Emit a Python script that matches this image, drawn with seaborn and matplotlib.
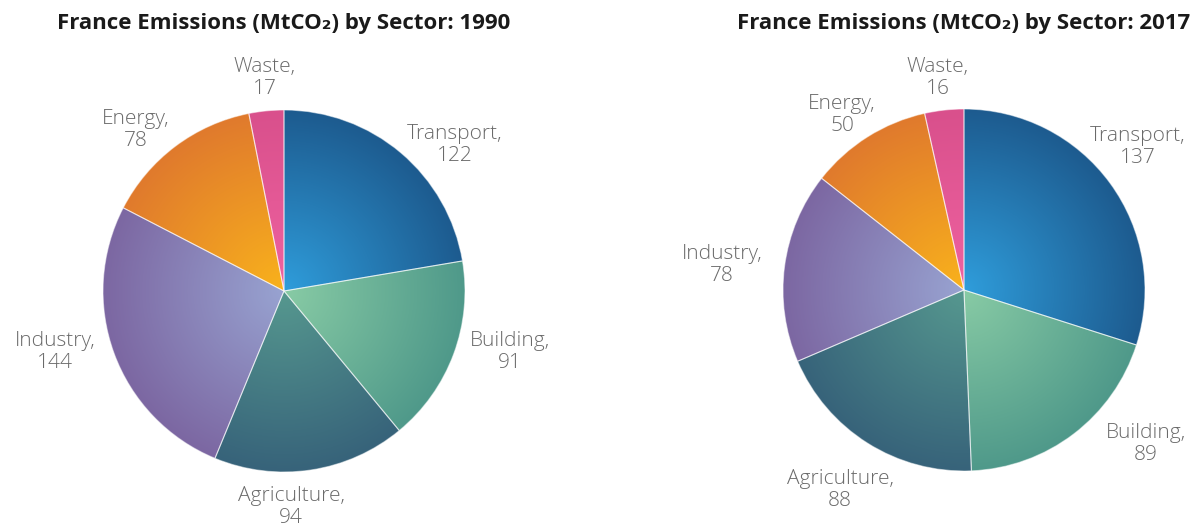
import numpy as np
import matplotlib
matplotlib.use("Agg")
import matplotlib.pyplot as plt
from matplotlib.colors import LinearSegmentedColormap
import seaborn as sns

# data
sectors = ['Transport', 'Building', 'Agriculture', 'Industry', 'Energy', 'Waste']
emissions_1990 = [122, 91, 94, 144, 78, 17]
emissions_2017 = [137, 89, 88, 78, 50, 16]
years = ['1990', '2017']

# light (centre) -> dark (rim) shades per sector
light_colors = ['#2f9ddb', '#88cba5', '#56988f', '#98a3d1', '#f9b21c', '#ef62a0']
dark_colors = ['#1d5b8f', '#4f998a', '#37637a', '#7c67a2', '#e07a2d', '#d9508c']

# label anchor positions (pie radius units), layout only
label_pos = [
    [(0.945, 0.807), (1.249, -0.337), (0.04, -1.193), (-1.265, -0.337), (-0.818, 0.890), (-0.105, 1.177)],
    [(0.961, 0.790), (1.006, -0.851), (-0.685, -1.105), (-1.337, 0.138), (-0.674, 0.967), (-0.144, 1.171)],
]

sns.set_theme(style="white")
plt.rcParams['font.family'] = ['Open Sans', 'DejaVu Sans']

W, H = 1195, 532
fig = plt.figure(figsize=(W / 100, H / 100), dpi=100)

R = 181
centers = [(284, 291), (964, 290)]
title_y = 24

grid = np.linspace(-1, 1, 500)
gx, gy = np.meshgrid(grid, grid)
radial = np.sqrt(gx ** 2 + gy ** 2)


def draw_pie(ax, values, positions):
    labels = [f"{s},\n{v}" for s, v in zip(sectors, values)]
    wedges, texts = ax.pie(values, labels=labels, startangle=90, counterclock=False,
                           radius=1, labeldistance=1.3,
                           wedgeprops=dict(linewidth=0.8, edgecolor=(1, 1, 1, 0.5)),
                           textprops=dict(fontsize=15, color='#6a6a6a', fontweight='light',
                                          linespacing=1.15))
    for i, w in enumerate(wedges):
        w.set_facecolor('none')
        w.set_zorder(3)
        cmap = LinearSegmentedColormap.from_list(f"g{i}", [light_colors[i], dark_colors[i]])
        im = ax.imshow(radial, cmap=cmap, vmin=0, vmax=1, extent=(-1, 1, -1, 1),
                       origin='lower', zorder=2, interpolation='bilinear')
        im.set_clip_path(w)
    for t, p in zip(texts, positions):
        t.set_position(p)
        t.set_horizontalalignment('center')
        t.set_verticalalignment('center')
        t.set_multialignment('center')
    ax.set_xlim(-1, 1)
    ax.set_ylim(-1, 1)
    ax.set_aspect('equal')
    ax.axis('off')


for k, vals in enumerate([emissions_1990, emissions_2017]):
    cx, cy = centers[k]
    ax = fig.add_axes([(cx - R) / W, (H - cy - R) / H, 2 * R / W, 2 * R / H])
    draw_pie(ax, vals, label_pos[k])
    fig.text(cx / W, 1 - title_y / H, f"France Emissions (MtCO\u2082) by Sector: {years[k]}",
             ha='center', va='center', fontsize=16, fontweight='bold', color='#1a1a1a')

fig.savefig("out.png", dpi=100)
